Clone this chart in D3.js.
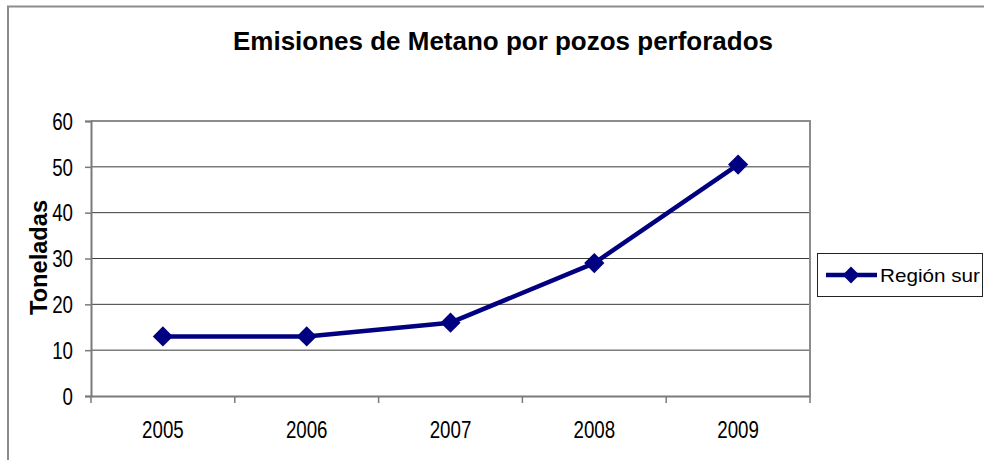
<!DOCTYPE html>
<html>
<head>
<meta charset="utf-8">
<script src="https://cdn.jsdelivr.net/npm/d3@7"></script>
<style>
  body { margin: 0; background: #fff; }
  text { font-family: "Liberation Sans", Arial, sans-serif; fill: #000; }
</style>
</head>
<body>
<div id="chart"></div>
<script>
// chart data
let years = ["2005", "2006", "2007", "2008", "2009"]
let regionSur = [13, 13, 16, 29, 50.5]
let yTicks = [0, 10, 20, 30, 40, 50, 60]
let seriesName = "Región sur"

let W = 984, H = 460
let plot = {left: 91, top: 121, right: 810, bottom: 396}
let navy = "#000080"

// the original text looks narrow and tall: squeeze it horizontally
function squeeze(sel, k) {
  sel.each(function() {
    let w = this.getComputedTextLength()
    d3.select(this)
      .attr("textLength", w * k)
      .attr("lengthAdjust", "spacingAndGlyphs")
  })
}

let svg = d3.select("#chart")
  .append("svg")
  .attr("width", W)
  .attr("height", H)

// outer chart border (left + top)
svg.append("path")
  .attr("d", `M8,${H} V6.5 H${W}`)
  .attr("fill", "none")
  .attr("stroke", "#8c8c8c")
  .attr("stroke-width", 2)

svg.append("text")
  .attr("x", 503)
  .attr("y", 50)
  .attr("text-anchor", "middle")
  .attr("font-size", 25.5)
  .attr("font-weight", "bold")
  .attr("textLength", 540)
  .attr("lengthAdjust", "spacingAndGlyphs")
  .text("Emisiones de Metano por pozos perforados")

let x = d3.scaleBand()
  .domain(years)
  .range([plot.left, plot.right])

let y = d3.scaleLinear()
  .domain([0, 60])
  .range([plot.bottom, plot.top])

// gridlines
svg.append("g")
  .selectAll("line")
  .data(yTicks.filter(d => d > 0 && d < 60))
  .enter()
  .append("line")
  .attr("x1", plot.left)
  .attr("x2", plot.right)
  .attr("y1", d => y(d))
  .attr("y2", d => y(d))
  .attr("stroke", "#3a3a3a")
  .attr("stroke-width", 1)

// plot border top/right
svg.append("path")
  .attr("d", `M${plot.left},${plot.top} H${plot.right} V${plot.bottom}`)
  .attr("fill", "none")
  .attr("stroke", "#8c8c8c")
  .attr("stroke-width", 2)

// y axis
let yAxis = svg.append("g")
  .attr("transform", `translate(${plot.left},0)`)
  .call(d3.axisLeft(y).tickValues(yTicks).tickSize(6).tickPadding(12))
yAxis.select(".domain").attr("stroke", "#7a7a7a").attr("stroke-width", 2)
yAxis.selectAll(".tick line").attr("stroke", "#7a7a7a").attr("stroke-width", 1.5)
yAxis.selectAll("text")
  .attr("font-size", 24)
  .attr("font-family", "Liberation Sans, Arial, sans-serif")
  .attr("fill", "#000")
  .attr("dy", "0.34em")
  .call(squeeze, 0.78)

// x axis, ticks on category boundaries
let xAxis = svg.append("g")
  .attr("transform", `translate(0,${plot.bottom})`)
  .call(d3.axisBottom(x).tickSize(0).tickPadding(0))
xAxis.select(".domain").attr("stroke", "#7a7a7a").attr("stroke-width", 2)
xAxis.selectAll("text")
  .attr("font-size", 24)
  .attr("font-family", "Liberation Sans, Arial, sans-serif")
  .attr("fill", "#000")
  .attr("y", 42)
  .attr("dy", 0)
  .call(squeeze, 0.78)
xAxis.selectAll(".bound")
  .data(years.concat(["end"]))
  .enter()
  .append("line")
  .attr("class", "bound")
  .attr("x1", (d, i) => i < years.length ? x(d) : x(years[years.length - 1]) + x.bandwidth())
  .attr("x2", (d, i) => i < years.length ? x(d) : x(years[years.length - 1]) + x.bandwidth())
  .attr("y1", 0)
  .attr("y2", 7)
  .attr("stroke", "#7a7a7a")
  .attr("stroke-width", 1.5)

svg.append("text")
  .attr("transform", `translate(46.5,257.5) rotate(-90)`)
  .attr("text-anchor", "middle")
  .attr("font-size", 23)
  .attr("font-weight", "bold")
  .attr("textLength", 115)
  .attr("lengthAdjust", "spacingAndGlyphs")
  .text("Toneladas")

// series line
let line = d3.line()
  .x((d, i) => x(years[i]) + x.bandwidth() / 2)
  .y(d => y(d))

svg.append("path")
  .datum(regionSur)
  .attr("d", line)
  .attr("fill", "none")
  .attr("stroke", navy)
  .attr("stroke-width", 4.5)
  .attr("stroke-linejoin", "round")

let diamond = d3.symbol().type(d3.symbolDiamond2).size(260)

svg.selectAll(".pt")
  .data(regionSur)
  .enter()
  .append("path")
  .attr("class", "pt")
  .attr("transform", (d, i) => `translate(${x(years[i]) + x.bandwidth() / 2},${y(d)})`)
  .attr("d", diamond)
  .attr("fill", navy)

// legend
let lg = svg.append("g").attr("transform", "translate(817,253)")
lg.append("rect")
  .attr("x", 0.5).attr("y", 0.5)
  .attr("width", 165).attr("height", 43)
  .attr("fill", "#fff")
  .attr("stroke", "#222")
  .attr("stroke-width", 1)
lg.append("line")
  .attr("x1", 9).attr("x2", 60)
  .attr("y1", 22).attr("y2", 22)
  .attr("stroke", navy)
  .attr("stroke-width", 4.5)
lg.append("path")
  .attr("transform", "translate(34,22)")
  .attr("d", d3.symbol().type(d3.symbolDiamond2).size(180))
  .attr("fill", navy)
lg.append("text")
  .attr("x", 63).attr("y", 29)
  .attr("font-size", 19)
  .attr("textLength", 100)
  .attr("lengthAdjust", "spacingAndGlyphs")
  .text(seriesName)
</script>
</body>
</html>
